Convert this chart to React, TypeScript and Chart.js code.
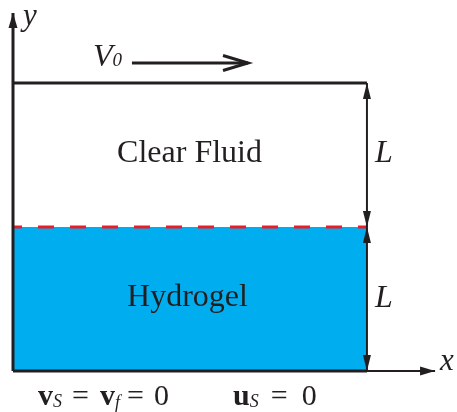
import { useEffect, useRef } from "react";
import { Chart, registerables } from "chart.js";

Chart.register(...registerables);

// Geometry in units of the layer thickness L
const boxWidth = 2.458;
const interfaceLevel = 1;
const lidLevel = 2;
const xAxisEnd = 2.931;
const yAxisEnd = 2.486;

const hydrogelLayer = [
  { x: 0, y: interfaceLevel },
  { x: boxWidth, y: interfaceLevel },
];
const interfaceLine = [
  { x: 0, y: interfaceLevel },
  { x: boxWidth, y: interfaceLevel },
];
const lidLine = [
  { x: 0, y: lidLevel },
  { x: boxWidth, y: lidLevel },
];
const bottomWall = [
  { x: 0, y: 0 },
  { x: boxWidth, y: 0 },
];
const xAxisLine = [
  { x: 0, y: 0 },
  { x: xAxisEnd, y: 0 },
];
const yAxisLine = [
  { x: 0, y: 0 },
  { x: 0, y: yAxisEnd },
];
const upperSpan = [
  { x: boxWidth, y: interfaceLevel },
  { x: boxWidth, y: lidLevel },
];
const lowerSpan = [
  { x: boxWidth, y: 0 },
  { x: boxWidth, y: interfaceLevel },
];
const lidVelocity = [
  { x: 0.826, y: 2.139 },
  { x: 1.632, y: 2.139 },
];

const INK = "#231f20";
const GEL = "#00aeef";
const RED = "#ed1c24";
const SERIF = '"Liberation Serif", "Times New Roman", Times, serif';

type Seg = { t: string; font: string; gap?: number; dy?: number };
type Label = { x: number; y: number; align: "left" | "center"; segs: Seg[] };

const roman = (s: number) => `${s}px ${SERIF}`;
const ital = (s: number) => `italic ${s}px ${SERIF}`;
const bold = (s: number) => `bold ${s}px ${SERIF}`;

const labels: Label[] = [
  { x: 0.069, y: 2.403, align: "left", segs: [{ t: "y", font: ital(31) }] },
  { x: 2.965, y: 0.007, align: "left", segs: [{ t: "x", font: ital(31) }] },
  {
    x: 0.556,
    y: 2.118,
    align: "left",
    segs: [
      { t: "V", font: ital(32) },
      { t: "0", font: ital(19), gap: 0 },
    ],
  },
  { x: 1.226, y: 1.451, align: "center", segs: [{ t: "Clear Fluid", font: roman(32) }] },
  { x: 1.212, y: 0.451, align: "center", segs: [{ t: "Hydrogel", font: roman(32) }] },
  { x: 2.514, y: 1.451, align: "left", segs: [{ t: "L", font: ital(32) }] },
  { x: 2.514, y: 0.444, align: "left", segs: [{ t: "L", font: ital(32) }] },
  {
    x: 0.174,
    y: -0.236,
    align: "left",
    segs: [
      { t: "v", font: bold(30) },
      { t: "S", font: ital(18), dy: 2 },
      { t: "=", font: roman(30), gap: 10 },
      { t: "v", font: bold(30), gap: 11 },
      { t: "f", font: ital(18), dy: 3 },
      { t: "=", font: roman(30), gap: 7 },
      { t: "0", font: roman(30), gap: 10 },
    ],
  },
  {
    x: 1.528,
    y: -0.236,
    align: "left",
    segs: [
      { t: "u", font: bold(30) },
      { t: "S", font: ital(18), dy: 2 },
      { t: "=", font: roman(30), gap: 12 },
      { t: "0", font: roman(30), gap: 14 },
    ],
  },
];

type Head = { data: { x: number; y: number }[]; end: 0 | 1; style: "filled" | "open"; len: number; half: number; width?: number };

const heads: Head[] = [
  { data: yAxisLine, end: 1, style: "filled", len: 15, half: 4.5 },
  { data: xAxisLine, end: 1, style: "filled", len: 15, half: 4.5 },
  { data: upperSpan, end: 0, style: "filled", len: 16, half: 4 },
  { data: upperSpan, end: 1, style: "filled", len: 16, half: 4 },
  { data: lowerSpan, end: 0, style: "filled", len: 16, half: 4 },
  { data: lowerSpan, end: 1, style: "filled", len: 16, half: 4 },
  { data: lidVelocity, end: 1, style: "open", len: 25, half: 7.5, width: 3 },
];

const line = (data: { x: number; y: number }[], width: number, color = INK, order = 1) => ({
  data,
  showLine: true,
  borderColor: color,
  borderWidth: width,
  pointRadius: 0,
  fill: false,
  clip: false as const,
  order,
  borderCapStyle: "butt" as const,
});

const sketchPlugin = {
  id: "sketch",
  afterDatasetsDraw(chart: Chart) {
    const ctx = chart.ctx;
    const xs = chart.scales.x;
    const ys = chart.scales.y;
    ctx.save();
    for (const h of heads) {
      const tip = h.data[h.end];
      const tail = h.data[1 - h.end];
      const tx = xs.getPixelForValue(tip.x);
      const ty = ys.getPixelForValue(tip.y);
      const bx = xs.getPixelForValue(tail.x);
      const by = ys.getPixelForValue(tail.y);
      const a = Math.atan2(ty - by, tx - bx);
      const ux = Math.cos(a);
      const uy = Math.sin(a);
      const px = -uy;
      const py = ux;
      const baseX = tx - ux * h.len;
      const baseY = ty - uy * h.len;
      ctx.beginPath();
      ctx.moveTo(baseX + px * h.half, baseY + py * h.half);
      ctx.lineTo(tx, ty);
      ctx.lineTo(baseX - px * h.half, baseY - py * h.half);
      if (h.style === "filled") {
        ctx.closePath();
        ctx.fillStyle = INK;
        ctx.fill();
      } else {
        ctx.strokeStyle = INK;
        ctx.lineWidth = h.width ?? 2;
        ctx.lineJoin = "miter";
        ctx.stroke();
      }
    }
    ctx.fillStyle = INK;
    ctx.textBaseline = "alphabetic";
    ctx.textAlign = "left";
    for (const lb of labels) {
      let total = 0;
      for (const s of lb.segs) {
        ctx.font = s.font;
        total += (s.gap ?? 0) + ctx.measureText(s.t).width;
      }
      let cx = xs.getPixelForValue(lb.x);
      const cy = ys.getPixelForValue(lb.y);
      if (lb.align === "center") cx -= total / 2;
      for (const s of lb.segs) {
        ctx.font = s.font;
        cx += s.gap ?? 0;
        ctx.fillText(s.t, cx, cy + (s.dy ?? 0));
        cx += ctx.measureText(s.t).width;
      }
    }
    ctx.restore();
  },
};

export default function App() {
  const ref = useRef<HTMLCanvasElement>(null);
  useEffect(() => {
    if (!ref.current) return;
    let chart: Chart | null = null;
    let alive = true;
    const fontsReady = Promise.all(
      [roman(32), ital(32), bold(30)].map((f) => document.fonts.load(f, "ClearFluidHydrogelLVvxyuS0=")),
    ).catch(() => null);
    fontsReady.then(() => {
      if (!alive || !ref.current) return;
      chart = new Chart(ref.current, {
        type: "scatter",
        data: {
          datasets: [
            {
              ...line(hydrogelLayer, 0, GEL, 10),
              backgroundColor: GEL,
              fill: "origin",
            },
            { ...line(interfaceLine, 3, RED, 5), borderDash: [16, 16], borderDashOffset: 7 },
            line(lidLine, 3),
            line(bottomWall, 3),
            line(xAxisLine, 2),
            line(yAxisLine, 3),
            line(upperSpan, 2),
            line(lowerSpan, 2),
            line(lidVelocity, 3),
          ],
        },
        options: {
          animation: false,
          responsive: false,
          devicePixelRatio: 1,
          layout: { padding: 0 },
          plugins: { legend: { display: false }, tooltip: { enabled: false } },
          events: [],
          scales: {
            x: { type: "linear", display: false, min: -13 / 144, max: 444 / 144 },
            y: { type: "linear", display: false, min: -41 / 144, max: 371 / 144 },
          },
        },
        plugins: [sketchPlugin],
      });
    });
    return () => {
      alive = false;
      chart?.destroy();
    };
  }, []);
  return (
    <div style={{ position: "fixed", left: 0, top: 0, width: 457, height: 412, background: "#fff" }}>
      <canvas ref={ref} width={457} height={412} />
    </div>
  );
}
